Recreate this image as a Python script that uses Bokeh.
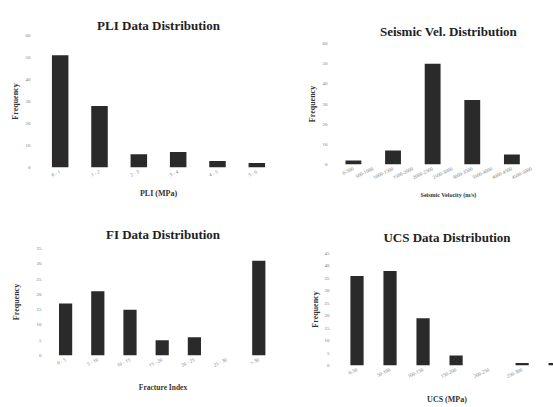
from bokeh.plotting import figure
from bokeh.layouts import column, row
from bokeh.models import Range1d, FixedTicker
from bokeh.embed import file_html
from bokeh.resources import INLINE

# ---- data ----
pli_cats = ["0 - 1", "1 - 2", "2 - 3", "3 - 4", "4 - 5", "5 - 6"]
pli_vals = [51, 28, 6, 7, 3, 2]

sv_cats = ["0-500", "500-1000", "1000-1500", "1500-2000", "2000-2500",
           "2500-3000", "3000-3500", "3500-4000", "4000-4500", "4500-5000"]
sv_vals = [2, 0, 7, 0, 50, 0, 32, 0, 5, 0]

fi_cats = ["0 - 5", "5 - 10", "10 - 15", "15 - 20", "20 - 25", "25 - 30", "> 30"]
fi_vals = [17, 21, 15, 5, 6, 0, 31]

ucs_cats = ["0-50", "50-100", "100-150", "150-200", "200-250", "250-300", "300-350"]
ucs_vals = [36, 38, 19, 4, 0, 1, 1]

SERIF = "Liberation Serif"
BAR = "#2a2a2a"


def make(title, cats, vals, xlabel, ymax, ystep, w, h, bl, br, bt, bb,
         xend, bw, lab_standoff, axlab_standoff, title_standoff, xlab_size,
         xlab_standoff):
    x = list(range(1, len(cats) + 1))
    p = figure(width=w, height=h, output_backend="svg", toolbar_location=None,
               x_range=Range1d(0.5, xend), y_range=Range1d(0, ymax),
               min_border_left=bl, min_border_right=br,
               min_border_top=bt, min_border_bottom=bb)
    try:
        p.frame_align = False
    except Exception:
        pass
    p.vbar(x=x, top=vals, width=bw, fill_color=BAR, line_color=None)
    p.title.text = title
    p.title.align = "center"
    p.title.text_font = SERIF
    p.title.text_font_size = "13px"
    p.title.text_font_style = "bold"
    p.title.text_color = "#222222"
    p.title.standoff = title_standoff
    p.outline_line_color = None
    p.xgrid.grid_line_color = None
    p.ygrid.grid_line_color = None
    for ax in (p.xaxis[0], p.yaxis[0]):
        ax.axis_line_color = None
        ax.major_tick_line_color = None
        ax.minor_tick_line_color = None
        ax.major_tick_out = 0
        ax.major_tick_in = 0
        ax.minor_tick_out = 0
        ax.minor_tick_in = 0
        ax.major_label_text_font = SERIF
        ax.major_label_text_font_size = "5px"
        ax.major_label_text_color = "#777777"
        ax.axis_label_text_font = SERIF
        ax.axis_label_text_font_style = "bold"
        ax.axis_label_text_color = "#333333"
    p.yaxis.ticker = FixedTicker(ticks=list(range(0, ymax + 1, ystep)))
    p.yaxis.major_label_standoff = lab_standoff
    p.yaxis.axis_label = "Frequency"
    p.yaxis.axis_label_text_font_size = "8px"
    p.yaxis.axis_label_standoff = axlab_standoff
    p.xaxis.ticker = FixedTicker(ticks=x)
    p.xaxis.major_label_overrides = {i: c for i, c in zip(x, cats)}
    p.xaxis.major_label_orientation = 0.45
    p.xaxis.major_label_standoff = 4
    p.xaxis.axis_label = xlabel
    p.xaxis.axis_label_text_font_size = xlab_size
    p.xaxis.axis_label_standoff = xlab_standoff
    return p


p1 = make("PLI Data Distribution", pli_cats, pli_vals, "PLI (MPa)", 60, 10,
          276, 200, 40, 0, 35, 33, 6.5, 0.42, 10, 3, 5, "8px", 6)
p2 = make("Seismic Vel. Distribution", sv_cats, sv_vals, "Seismic Velocity (m/s)", 60, 10,
          277, 200, 67, 0, 43, 35, 11.1, 0.8, 16, 3, 9, "6px", 8)
p3 = make("FI Data Distribution", fi_cats, fi_vals, "Fracture Index", 35, 5,
          276, 207, 49, 0, 48, 52, 7.55, 0.41, 8, 13, 14, "7.5px", 10)
p4 = make("UCS Data Distribution", ucs_cats, ucs_vals, "UCS (MPa)", 45, 5,
          277, 207, 64, 0, 53, 40, 6.95, 0.4, 11, 2, 17, "8px", 13)

layout = column(row(column(p1), column(p2)), row(column(p3), column(p4)))

open("out.html", "w").write(file_html(layout, INLINE))
